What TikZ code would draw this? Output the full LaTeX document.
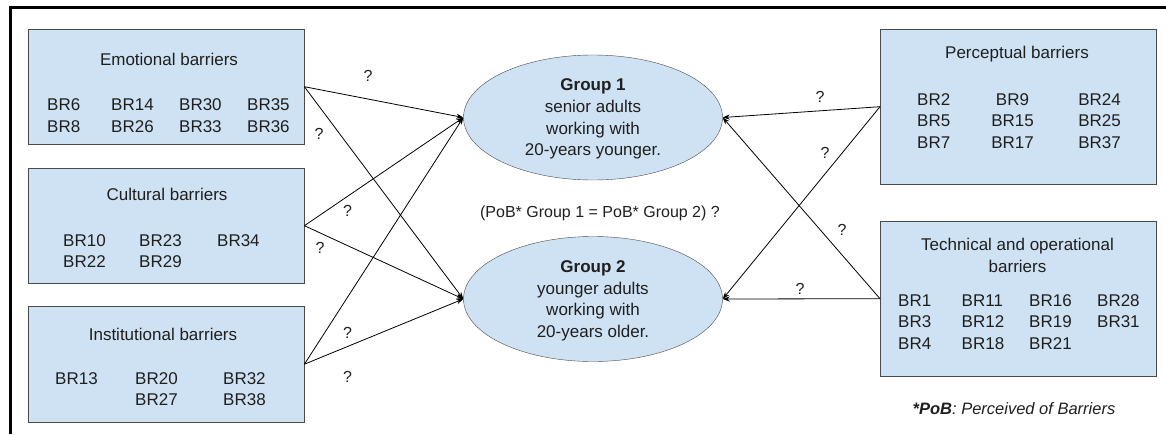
\documentclass[tikz,border=0pt]{standalone}
\usepackage{fontspec}
\setmainfont{Liberation Sans}
\usetikzlibrary{shapes.geometric,arrows.meta}
\definecolor{barrierblue}{HTML}{CFE2F3}
\definecolor{edgegray}{HTML}{4A4A4A}
\tikzset{
  barrier/.style={draw=edgegray,fill=barrierblue,rectangle,anchor=north west,inner sep=0,minimum width=276pt},
  group/.style={draw=edgegray,fill=barrierblue,ellipse,inner sep=0,minimum width=259pt,minimum height=125pt,align=center,text depth=0pt,font=\fontsize{17}{21.7}\selectfont},
  title/.style={anchor=base,inner sep=0,font=\fontsize{17}{21.5}\selectfont},
  codes/.style={anchor=base west,inner sep=0,font=\fontsize{17}{21.5}\selectfont},
  ask/.style={inner sep=0,font=\fontsize{16}{16}\selectfont},
  link/.style={-{Stealth[length=7pt,width=5pt]},line width=0.8pt}
}

\begin{document}
\begin{tikzpicture}[x=1pt,y=-1pt,text=black!88]
	\useasboundingbox (0,0) rectangle (1166,434);
	\draw[line width=3pt,line join=miter] (10.5,434) -- (10.5,7.5) -- (1166,7.5);

	% barrier boxes
	\node[barrier,minimum height=115pt] (emo) at (28,29) {};
	\node[barrier,minimum height=115pt] (cult) at (28,168) {};
	\node[barrier,minimum height=116pt] (inst) at (28,306) {};
	\node[barrier,minimum height=155pt] (perc) at (880,29) {};
	\node[barrier,minimum height=155pt] (tech) at (880,221) {};

	\node[title] (emot) at (169,65) {Emotional barriers};
	\node[codes] (emol) at (47,110.5) {\begin{tabular}[t]{@{}p{64pt}@{}p{68pt}@{}p{68pt}@{}l@{}}
		BR6 & BR14 & BR30 & BR35\\ BR8 & BR26 & BR33 & BR36\end{tabular}};
	\node[title] (cultt) at (167,200) {Cultural barriers};
	\node[codes] (cultl) at (63,246) {\begin{tabular}[t]{@{}p{76pt}@{}p{78pt}@{}l@{}}
		BR10 & BR23 & BR34\\ BR22 & BR29 & \end{tabular}};
	\node[title] (instt) at (163,340) {Institutional barriers};
	\node[codes] (instl) at (55,384) {\begin{tabular}[t]{@{}p{80pt}@{}p{88pt}@{}l@{}}
		BR13 & BR20 & BR32\\ & BR27 & BR38\end{tabular}};
	\node[title] (perct) at (1017,58.3) {Perceptual barriers};
	\node[codes] (percl) at (917,105) {\begin{tabular}[t]{@{}l@{\hspace{41pt}}c@{\hspace{44.5pt}}l@{}}
		BR2 & BR9 & BR24\\ BR5 & BR15 & BR25\\ BR7 & BR17 & BR37\end{tabular}};
	\node[title,anchor=center,align=center,text depth=0pt] (techt) at (1017.5,255.2) {Technical and operational\\barriers};
	\node[codes] (techl) at (898,306) {\begin{tabular}[t]{@{}p{63.5pt}@{}p{67.5pt}@{}p{68pt}@{}l@{}}
		BR1 & BR11 & BR16 & BR28\\ BR3 & BR12 & BR19 & BR31\\ BR4 & BR18 & BR21 & \end{tabular}};

	% groups
	\node[group] (g1) at (593,117.5) {\textbf{Group 1}\\senior adults\\working with\\20-years younger.};
	\node[group] (g2) at (593,299) {\textbf{Group 2}\\younger adults\\working with\\20-years older.};
	\node[anchor=base,font=\fontsize{16}{19}\selectfont] (eq) at (600,217) {(PoB* Group 1 = PoB* Group 2) ?};

	% links
	\draw[link] (emo.east) -- (g1.west);
	\draw[link] (emo.east) -- (g2.west);
	\draw[link] (cult.east) -- (g1.west);
	\draw[link] (cult.east) -- (g2.west);
	\draw[link] (inst.east) -- (g1.west);
	\draw[link] (inst.east) -- (g2.west);
	\draw[link] (perc.west) -- (g1.east);
	\draw[link] (perc.west) -- (g2.east);
	\draw[link] (tech.west) -- (g1.east);
	\draw[link] (tech.west) -- (g2.east);
	\node[ask] (q1) at (368,76) {?};
	\node[ask] (q2) at (319,134) {?};
	\node[ask] (q3) at (347.5,211) {?};
	\node[ask] (q4) at (320,248) {?};
	\node[ask] (q5) at (347.5,333) {?};
	\node[ask] (q6) at (347.5,377) {?};
	\node[ask] (q7) at (820,97) {?};
	\node[ask] (q8) at (825,153) {?};
	\node[ask] (q9) at (842,230) {?};
	\node[ask] (q10) at (800,289) {?};

	\node[anchor=base,font=\fontsize{16.5}{20}\selectfont\itshape] (note) at (1014,414) {\textbf{*PoB}: Perceived of Barriers};
\end{tikzpicture}
\end{document}
